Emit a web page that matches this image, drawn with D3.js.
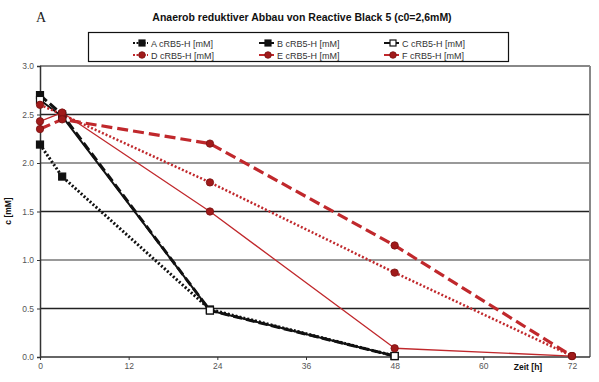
<!DOCTYPE html>
<html><head><meta charset="utf-8">
<script src="https://cdn.jsdelivr.net/npm/d3@7"></script>
<style>body{margin:0;background:#fff}svg{display:block}</style>
</head><body>
<svg id="c" width="599" height="382"></svg>
<script>
const times = [0, 3, 23, 48, 72];
const timesBlack = [0, 3, 23, 48];
const seriesA = [2.19, 1.86, 0.49, 0.01];
const seriesB = [2.70, 2.50, 0.48, 0.01];
const seriesC = [2.65, 2.48, 0.48, 0.01];
const seriesD = [2.60, 2.50, 1.80, 0.87, 0.01];
const seriesE = [2.43, 2.52, 1.50, 0.09, 0.01];
const seriesF = [2.35, 2.45, 2.20, 1.15, 0.01];
const xTicks = [0, 12, 24, 36, 48, 60, 72];
const yTicks = [0, 0.5, 1.0, 1.5, 2.0, 2.5, 3.0];
const labels = ["A cRB5-H [mM]","B cRB5-H [mM]","C cRB5-H [mM]","D cRB5-H [mM]","E cRB5-H [mM]","F cRB5-H [mM]"];

const svg = d3.select("#c");
const x = d3.scaleLinear().domain([0,72]).range([40,572]);
const y = d3.scaleLinear().domain([0,3]).range([357,66]);
const R = 590;

svg.append("text").attr("x",36).attr("y",22).attr("font-family","Liberation Serif, serif").attr("font-size",14).attr("fill","#222").text("A");
svg.append("text").attr("x",302).attr("y",21).attr("text-anchor","middle").attr("font-family","Liberation Sans, Arial, sans-serif").attr("font-weight","bold").attr("font-size",10.5).attr("fill","#111").text("Anaerob reduktiver Abbau von Reactive Black 5  (c0=2,6mM)");

const g = svg.append("g");
yTicks.forEach((t,i)=>{
  if(t===0) return;
  g.append("line").attr("x1",40).attr("x2",R).attr("y1",y(t)).attr("y2",y(t))
   .attr("stroke", t===3 ? "#888" : (i%2===1 ? "#222" : "#777")).attr("stroke-width",t===3?2:1.3);
});
g.append("line").attr("x1",R).attr("x2",R).attr("y1",y(3)).attr("y2",y(0)).attr("stroke","#888").attr("stroke-width",2);

const yAxis = d3.axisLeft(y).tickValues(yTicks).tickFormat(d3.format(".1f")).tickSize(3);
const ya = svg.append("g").attr("transform","translate(40,0)").call(yAxis);
const xAxis = d3.axisBottom(x).tickValues(xTicks).tickFormat(d3.format("d")).tickSize(3);
const xa = svg.append("g").attr("transform",`translate(0,${y(0)})`).call(xAxis);
[ya,xa].forEach(a=>{
  a.select(".domain").attr("stroke","#333").attr("stroke-width",1.5);
  a.selectAll(".tick line").attr("stroke","#333");
  a.selectAll("text").attr("font-family","Liberation Sans, Arial, sans-serif").attr("font-size",8.5).attr("fill","#555");
});
xa.select(".domain").attr("d",`M40,0H${R}`);
svg.append("text").attr("transform","translate(11,211) rotate(-90)").attr("text-anchor","middle").attr("font-family","Liberation Sans, Arial, sans-serif").attr("font-weight","bold").attr("font-size",8.5).attr("fill","#111").text("c [mM]");
svg.append("text").attr("x",528).attr("y",370).attr("text-anchor","middle").attr("font-family","Liberation Sans, Arial, sans-serif").attr("font-weight","bold").attr("font-size",8.5).attr("fill","#111").text("Zeit [h]");

const red = "#c0282c", darkred = "#a01a1a";
const defs = [
  {t:timesBlack, v:seriesA, stroke:"#111", w:3, dash:"2,2", ldash:"2,1.5", marker:"sq", fill:"#111"},
  {t:timesBlack, v:seriesB, stroke:"#111", w:3, dash:"9,4", ldash:null, marker:"sq", fill:"#111"},
  {t:timesBlack, v:seriesC, stroke:"#111", w:2, dash:null, ldash:null, marker:"sq", fill:"#fff"},
  {t:times, v:seriesD, stroke:red, w:2.5, dash:"2,2", ldash:"2,1.5", marker:"ci", fill:darkred},
  {t:times, v:seriesE, stroke:red, w:1.3, dash:null, ldash:null, marker:"ci", fill:darkred},
  {t:times, v:seriesF, stroke:red, w:3.2, dash:"11,5", ldash:null, marker:"ci", fill:darkred}
];
const line = d3.line().x(d=>x(d[0])).y(d=>y(d[1]));
function marker(sel, type, cx, cy, fill){
  if(type==="sq") sel.append("rect").attr("x",cx-3.5).attr("y",cy-3.5).attr("width",7).attr("height",7).attr("fill",fill).attr("stroke","#111").attr("stroke-width",1.2);
  else sel.append("circle").attr("cx",cx).attr("cy",cy).attr("r",3.7).attr("fill",fill).attr("stroke","#7a1010").attr("stroke-width",0.8);
}
defs.forEach(s=>{
  const pts = s.t.map((t,i)=>[t,s.v[i]]);
  svg.append("path").attr("d",line(pts)).attr("fill","none").attr("stroke",s.stroke).attr("stroke-width",s.w)
    .attr("stroke-dasharray",s.dash).attr("stroke-linejoin","round");
});
defs.forEach(s=>{
  const mg = svg.append("g");
  s.t.forEach((t,i)=>marker(mg,s.marker,x(t),y(s.v[i]),s.fill));
});

svg.append("rect").attr("x",88.5).attr("y",32.5).attr("width",420).attr("height",29).attr("fill","#fff").attr("stroke","#111").attr("stroke-width",1.2);
const colX = [142, 268, 393], rowY = [43, 55];
defs.forEach((s,i)=>{
  const cx = colX[i%3], cy = rowY[Math.floor(i/3)];
  svg.append("line").attr("x1",cx-9).attr("x2",cx+6).attr("y1",cy).attr("y2",cy).attr("stroke",s.stroke).attr("stroke-width",2).attr("stroke-dasharray",s.ldash);
  const mg = svg.append("g");
  if(s.marker==="sq") mg.append("rect").attr("x",cx-3).attr("y",cy-3).attr("width",6).attr("height",6).attr("fill",s.fill).attr("stroke","#111").attr("stroke-width",1.2);
  else mg.append("circle").attr("cx",cx).attr("cy",cy).attr("r",3.3).attr("fill",s.fill).attr("stroke","#7a1010").attr("stroke-width",0.8);
  svg.append("text").attr("x",cx+9).attr("y",cy+3.5).attr("font-family","Liberation Sans, Arial, sans-serif").attr("font-size",9).attr("fill","#333").text(labels[i]);
});
</script>
</body></html>
